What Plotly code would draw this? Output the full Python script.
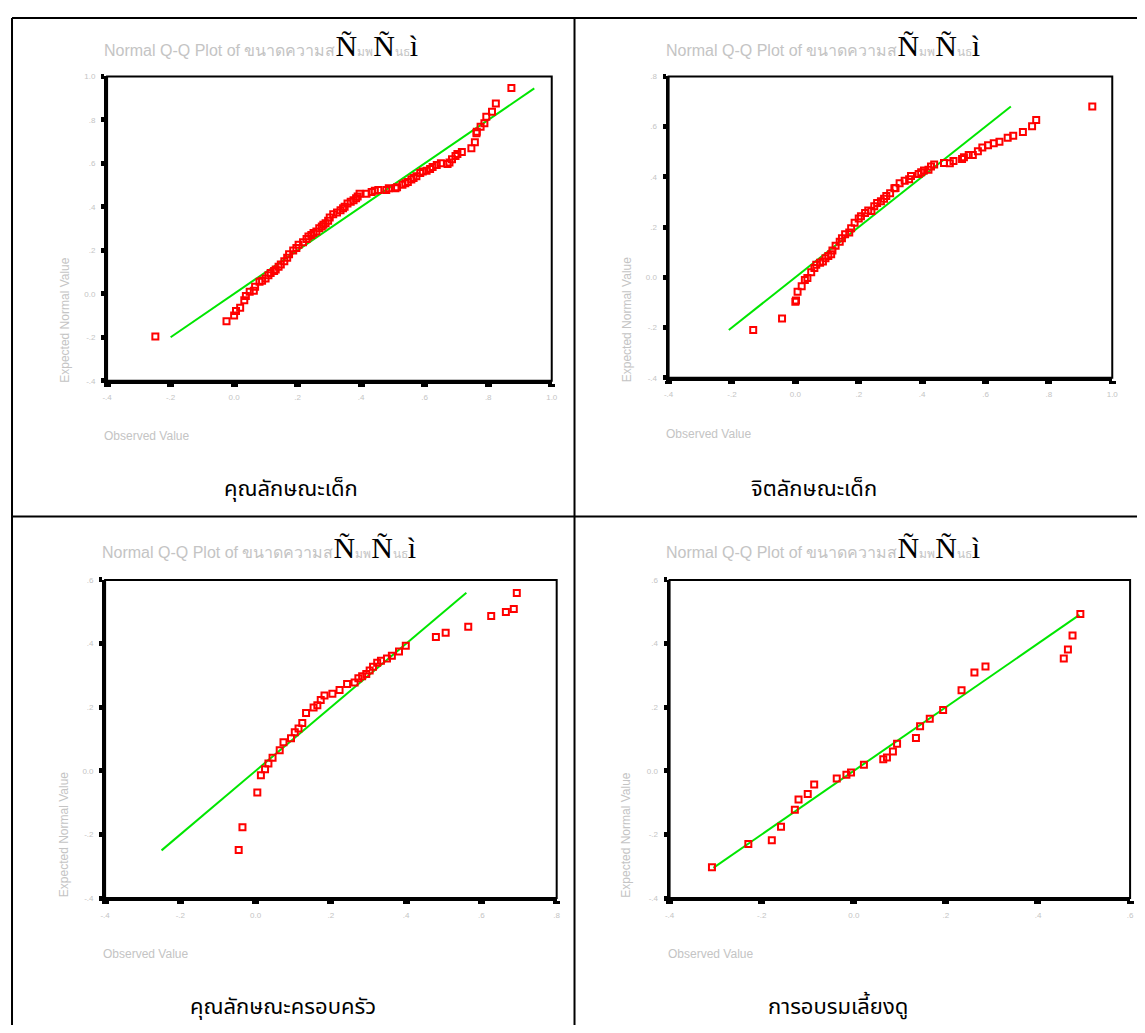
import plotly.graph_objects as go

# ---------------- data ----------------
tick_vals_10 = [-0.4, -0.2, 0.0, 0.2, 0.4, 0.6, 0.8, 1.0]
tick_text_10 = ["-.4", "-.2", "0.0", ".2", ".4", ".6", ".8", "1.0"]
tick_vals_08 = [-0.4, -0.2, 0.0, 0.2, 0.4, 0.6, 0.8]
tick_text_08 = ["-.4", "-.2", "0.0", ".2", ".4", ".6", ".8"]
tick_vals_06 = [-0.4, -0.2, 0.0, 0.2, 0.4, 0.6]
tick_text_06 = ["-.4", "-.2", "0.0", ".2", ".4", ".6"]

# Panel 1: คุณลักษณะเด็ก
obs1 = [-0.248, -0.024, 0.0, 0.006, 0.019, 0.032, 0.037, 0.049, 0.062, 0.066, 0.08, 0.088, 0.099,
        0.108, 0.115, 0.126, 0.131, 0.14, 0.147, 0.158, 0.167, 0.173, 0.186, 0.196, 0.203, 0.217,
        0.228, 0.234, 0.243, 0.25, 0.259, 0.268, 0.276, 0.281, 0.288, 0.296, 0.301, 0.312, 0.324,
        0.335, 0.343, 0.348, 0.357, 0.367, 0.376, 0.384, 0.389, 0.395, 0.417, 0.433, 0.443, 0.454,
        0.479, 0.487, 0.508, 0.513, 0.53, 0.539, 0.547, 0.558, 0.565, 0.574, 0.586, 0.594, 0.606,
        0.617, 0.625, 0.638, 0.651, 0.672, 0.678, 0.686, 0.697, 0.703, 0.717, 0.747, 0.758, 0.763,
        0.764, 0.776, 0.788, 0.794, 0.812, 0.824, 0.873]
exp1 = [-0.197, -0.126, -0.10, -0.079, -0.064, -0.03, -0.01, 0.009, 0.014, 0.032, 0.055, 0.06, 0.07,
        0.085, 0.096, 0.105, 0.112, 0.124, 0.135, 0.15, 0.166, 0.182, 0.199, 0.21, 0.225, 0.237,
        0.252, 0.263, 0.27, 0.28, 0.287, 0.302, 0.31, 0.318, 0.325, 0.336, 0.351, 0.366, 0.374,
        0.384, 0.394, 0.40, 0.415, 0.423, 0.43, 0.439, 0.448, 0.46, 0.46, 0.468, 0.474, 0.477,
        0.477, 0.486, 0.485, 0.49, 0.502, 0.508, 0.514, 0.526, 0.533, 0.541, 0.556, 0.563, 0.566,
        0.574, 0.583, 0.593, 0.60, 0.597, 0.604, 0.619, 0.634, 0.643, 0.652, 0.669, 0.697, 0.738,
        0.746, 0.769, 0.784, 0.814, 0.837, 0.875, 0.947]
ref1 = [-0.2, 0.945]

# Panel 2: จิตลักษณะเด็ก
obs2 = [-0.133, -0.042, 0.0, 0.002, 0.007, 0.02, 0.03, 0.038, 0.05, 0.06, 0.066, 0.078, 0.087, 0.095,
        0.104, 0.113, 0.117, 0.127, 0.14, 0.147, 0.157, 0.17, 0.176, 0.187, 0.2, 0.207, 0.22, 0.23,
        0.24, 0.249, 0.258, 0.27, 0.28, 0.287, 0.299, 0.3125, 0.316, 0.329, 0.345, 0.359, 0.365,
        0.389, 0.397, 0.406, 0.42, 0.428, 0.438, 0.469, 0.4875, 0.499, 0.526, 0.532, 0.547, 0.56,
        0.576, 0.59, 0.608, 0.626, 0.644, 0.67, 0.6875, 0.718, 0.747, 0.76, 0.937]
exp2 = [-0.21, -0.164, -0.097, -0.092, -0.058, -0.036, -0.011, -0.003, 0.02, 0.037, 0.05, 0.058, 0.063,
        0.076, 0.085, 0.092, 0.107, 0.126, 0.142, 0.155, 0.171, 0.178, 0.195, 0.217, 0.234, 0.243,
        0.256, 0.266, 0.264, 0.283, 0.296, 0.303, 0.313, 0.324, 0.335, 0.355, 0.356, 0.375, 0.384,
        0.39, 0.403, 0.411, 0.418, 0.425, 0.428, 0.441, 0.449, 0.455, 0.454, 0.463, 0.471, 0.478,
        0.487, 0.487, 0.502, 0.517, 0.526, 0.534, 0.54, 0.556, 0.564, 0.579, 0.602, 0.626, 0.68]
ref2 = [-0.21, 0.68]

# Panel 3: คุณลักษณะครอบครัว
obs3 = [-0.045, -0.035, 0.0045, 0.014, 0.025, 0.034, 0.045, 0.064, 0.074, 0.094, 0.104, 0.114, 0.124,
        0.134, 0.154, 0.164, 0.173, 0.183, 0.204, 0.223, 0.243, 0.263, 0.273, 0.283, 0.294, 0.303,
        0.312, 0.323, 0.333, 0.349, 0.362, 0.381, 0.399, 0.479, 0.505, 0.565, 0.626, 0.665, 0.686,
        0.694]
exp3 = [-0.249, -0.177, -0.068, -0.014, 0.005, 0.023, 0.041, 0.065, 0.09, 0.102, 0.121, 0.133, 0.15,
        0.182, 0.199, 0.206, 0.223, 0.237, 0.242, 0.254, 0.273, 0.278, 0.291, 0.297, 0.304, 0.315,
        0.327, 0.34, 0.346, 0.353, 0.362, 0.375, 0.393, 0.421, 0.434, 0.453, 0.487, 0.499, 0.509,
        0.559]
ref3 = [-0.25, 0.56]

# Panel 4: การอบรมเลี้ยงดู
obs4 = [-0.308, -0.229, -0.178, -0.158, -0.128, -0.12, -0.1, -0.086, -0.037, -0.016, -0.006, 0.022,
        0.064, 0.072, 0.085, 0.094, 0.135, 0.144, 0.165, 0.194, 0.234, 0.262, 0.286, 0.456, 0.465,
        0.475, 0.492]
exp4 = [-0.303, -0.23, -0.218, -0.176, -0.122, -0.09, -0.073, -0.043, -0.024, -0.012, -0.005, 0.019,
        0.036, 0.042, 0.061, 0.085, 0.103, 0.14, 0.164, 0.191, 0.253, 0.309, 0.328, 0.353, 0.381,
        0.425, 0.493]
ref4 = [-0.305, 0.49]

title_plain = "Normal Q-Q Plot of ขนาดความส"
title_glyph = "Ñ"
title_mid1 = "มพ"
title_mid2 = "นธ"
title_end = "ì"
x_title = "Observed Value"
y_title = "Expected Normal Value"
captions = ["คุณลักษณะเด็ก", "จิตลักษณะเด็ก", "คุณลักษณะครอบครัว", "การอบรมเลี้ยงดู"]

# ---------------- layout helpers ----------------
OFF = 8                 # page body margin
W, H = 1137, 1017       # figure size (fits inside the 1145x1033 window with the body margin)
def PX(px):
    return (px - OFF) / W
def PY(py):
    return 1 - (py - OFF) / H

GRAY = "#c4c4c4"
RED = "#ff0000"
GREEN = "#00e600"

panels = [
    dict(obs=obs1, exp=exp1, ref=ref1, box=(103, 552, 73, 380), xr=(-0.4, 1.0), yr=(-0.4, 1.0),
         xt=(tick_vals_10, tick_text_10), yt=(tick_vals_10, tick_text_10),
         title_xy=(98, 42), xlab=(98, 436), ylab=(61, 318), cap=(289, 490)),
    dict(obs=obs2, exp=exp2, ref=ref2, box=(670, 1118, 73, 377), xr=(-0.4, 1.0), yr=(-0.4, 0.8),
         xt=(tick_vals_10, tick_text_10), yt=(tick_vals_08, tick_text_08),
         title_xy=(665, 42), xlab=(665, 434), ylab=(628, 318), cap=(817, 490)),
    dict(obs=obs3, exp=exp3, ref=ref3, box=(101, 557, 581, 902), xr=(-0.4, 0.8), yr=(-0.4, 0.6),
         xt=(tick_vals_08, tick_text_08), yt=(tick_vals_06, tick_text_06),
         title_xy=(96, 548), xlab=(97, 958), ylab=(59, 838), cap=(281, 1012)),
    dict(obs=obs4, exp=exp4, ref=ref4, box=(671, 1136, 581, 902), xr=(-0.4, 0.6), yr=(-0.4, 0.6),
         xt=(tick_vals_06, tick_text_06), yt=(tick_vals_06, tick_text_06),
         title_xy=(665, 548), xlab=(667, 958), ylab=(627, 838), cap=(841, 1012)),
]

fig = go.Figure()
annotations = []
shapes = []

BIG = "color:#000000;font-size:30px;font-family:Liberation Serif"
title_html = (
    f"<span style='color:{GRAY};font-size:16px'>{title_plain}</span>"
    f"<span style='{BIG}'>{title_glyph}</span>"
    f"<span style='color:{GRAY};font-size:12px'>{title_mid1}</span>"
    f"<span style='{BIG}'>{title_glyph}</span>"
    f"<span style='color:{GRAY};font-size:12px'>{title_mid2}</span>"
    f"<span style='{BIG}'>{title_end}</span>"
)

for i, p in enumerate(panels, start=1):
    xa = "x" if i == 1 else f"x{i}"
    ya = "y" if i == 1 else f"y{i}"
    xkey = "xaxis" if i == 1 else f"xaxis{i}"
    ykey = "yaxis" if i == 1 else f"yaxis{i}"
    x0, x1, y0, y1 = p["box"]
    fig.add_trace(go.Scatter(x=p["ref"], y=p["ref"], mode="lines", xaxis=xa, yaxis=ya,
                             line=dict(color=GREEN, width=2), showlegend=False, hoverinfo="skip"))
    fig.add_trace(go.Scatter(x=p["obs"], y=p["exp"], mode="markers", xaxis=xa, yaxis=ya,
                             marker=dict(symbol="square-open", size=6, color=RED,
                                         line=dict(color=RED, width=2)),
                             showlegend=False))
    common = dict(showgrid=False, zeroline=False, showline=True, linecolor="black", linewidth=3,
                  ticks="outside", tickcolor="black", ticklen=3,
                  tickfont=dict(family="Liberation Sans, Arial", size=8, color=GRAY))
    fig.layout[xkey] = dict(common, domain=[PX(x0), PX(x1)], range=list(p["xr"]), anchor=ya,
                            tickvals=p["xt"][0], ticktext=p["xt"][1], tickwidth=7,
                            ticklabelstandoff=4)
    fig.layout[ykey] = dict(common, domain=[PY(y1), PY(y0)], range=list(p["yr"]), anchor=xa,
                            tickvals=p["yt"][0], ticktext=p["yt"][1], tickwidth=5,
                            ticklabelstandoff=4)
    shapes.append(dict(type="rect", xref=f"{xa} domain", yref=f"{ya} domain", x0=0, x1=1, y0=0, y1=1,
                       line=dict(color="black", width=2), layer="above"))
    annotations.append(dict(text=title_html, x=PX(p["title_xy"][0]), y=PY(p["title_xy"][1]),
                            xref="paper", yref="paper", xanchor="left", yanchor="middle",
                            showarrow=False, font=dict(family="Liberation Sans, Arial", size=16)))
    annotations.append(dict(text=x_title, x=PX(p["xlab"][0]), y=PY(p["xlab"][1]), xref="paper",
                            yref="paper", xanchor="left", yanchor="middle", showarrow=False,
                            font=dict(family="Liberation Sans, Arial", size=12, color=GRAY)))
    annotations.append(dict(text=y_title, x=PX(p["ylab"][0]), y=PY(p["ylab"][1]), xref="paper",
                            yref="paper", xanchor="center", yanchor="middle", textangle=-90,
                            showarrow=False,
                            font=dict(family="Liberation Sans, Arial", size=12, color=GRAY)))
    annotations.append(dict(text=captions[i - 1], x=PX(p["cap"][0]), y=PY(p["cap"][1]), xref="paper",
                            yref="paper", xanchor="center", yanchor="middle", showarrow=False,
                            font=dict(family="Noto Sans Thai, Tahoma, DejaVu Sans, sans-serif",
                                      size=22, color="black")))

# table borders
for (a, b, c, d) in [(7, 14, 1144, 14), (7, 14, 7, 1033), (1144, 14, 1144, 1033),
                     (575, 14, 575, 1033), (7, 517, 1144, 517)]:
    shapes.append(dict(type="line", xref="paper", yref="paper", x0=PX(a), y0=PY(b), x1=PX(c), y1=PY(d),
                       line=dict(color="black", width=2)))

fig.update_layout(width=W, height=H, margin=dict(l=0, r=0, t=0, b=0),
                  paper_bgcolor="white", plot_bgcolor="white",
                  annotations=annotations, shapes=shapes, showlegend=False)

fig.write_html("out.html")
